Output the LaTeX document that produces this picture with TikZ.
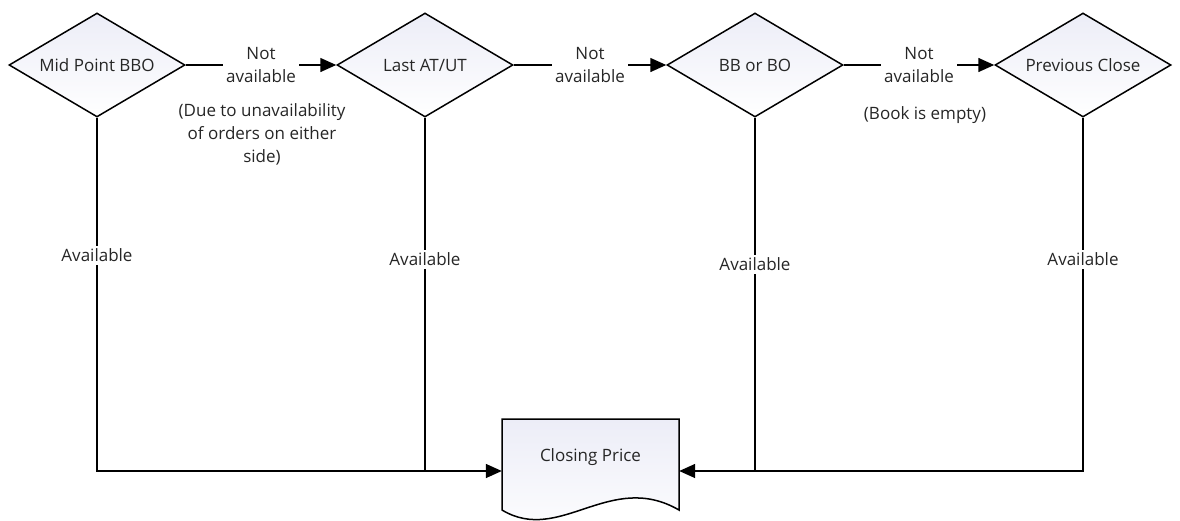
\documentclass[tikz,border=0pt]{standalone}
\usepackage{fontspec}
\setmainfont{Open Sans}
\usetikzlibrary{shapes.geometric,arrows.meta}
\definecolor{shapefill}{RGB}{236,237,247}
\begin{document}
\begin{tikzpicture}[x=1pt,y=-1pt,
  every node/.style={font=\fontsize{17}{23}\selectfont,text=black!85},
  decision/.style={diamond,aspect=1.7,draw=black,text=black!85,line width=1.5pt,top color=shapefill,bottom color=white,
    minimum width=176pt,minimum height=104pt,inner sep=0pt},
  line/.style={draw,line width=1.5pt},
  flow/.style={line,-{Triangle[length=16pt,width=14pt]}},
  tag/.style={fill=white,inner sep=3pt,align=center},
  note/.style={align=center}]
  \useasboundingbox (0,0) rectangle (1180,520);
  \path (97,65) node[decision] (mid) {Mid Point BBO};
  \path (425,65) node[decision] (last) {Last AT/UT};
  \path (755,65) node[decision] (bbbo) {BB or BO};
  \path (1083,65) node[decision] (prev) {Previous Close};
  \draw[line,top color=shapefill,bottom color=white] (502,419) -- (679,419) -- (679,510)
    .. controls (610,470) and (560,545) .. (502,510) -- cycle;
  \path (590.5,457) node[minimum width=177pt,minimum height=76pt,inner sep=0pt] (close) {Closing Price};
  \coordinate (inlet) at (590.5,471);
  \draw[flow] (mid) -- node[tag] (na1) {Not\\available} (last);
  \draw[flow] (last) -- node[tag] (na2) {Not\\available} (bbbo);
  \draw[flow] (bbbo) -- node[tag] (na3) {Not\\available} (prev);
  \path (262,134.5) node[note] (why1) {(Due to unavailability\\of orders on either\\side)};
  \path (925,115) node[note] (why3) {(Book is empty)};
  \draw[flow] (mid) |- node[tag,pos=0.195] (av1) {Available} (close.west |- inlet);
  \draw[line] (last) -- node[tag,pos=0.4] (av2) {Available} (last |- inlet);
  \draw[line] (bbbo) -- node[tag,pos=0.415] (av3) {Available} (bbbo |- inlet);
  \draw[flow] (prev) |- node[tag,pos=0.2] (av4) {Available} (close.east |- inlet);
\end{tikzpicture}
\end{document}
